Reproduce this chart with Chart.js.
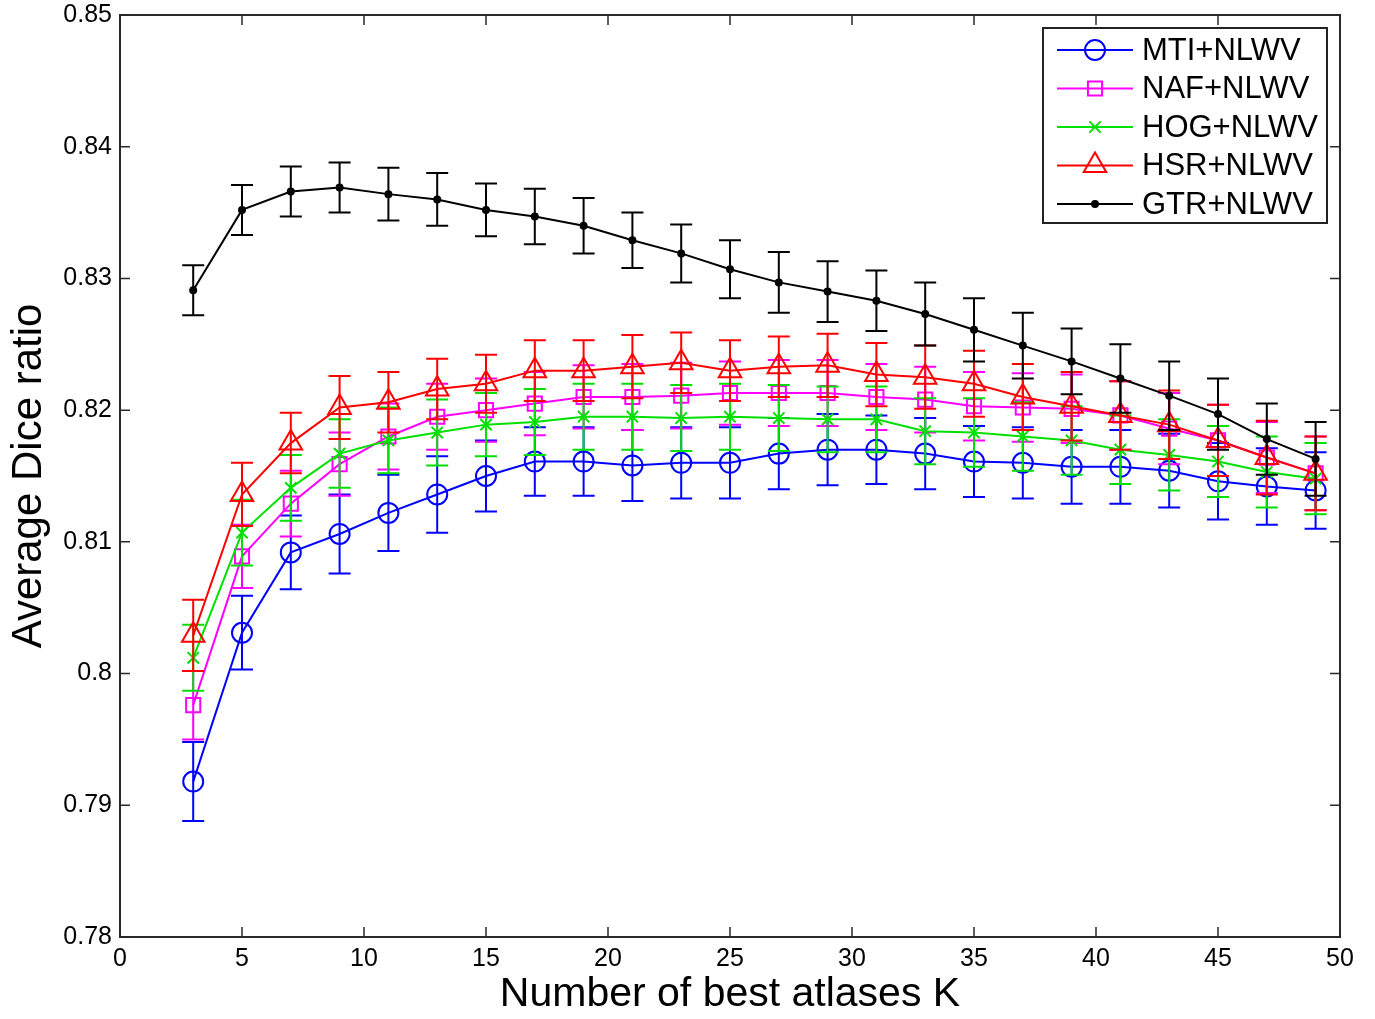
<!DOCTYPE html>
<html>
<head>
<meta charset="utf-8">
<title>Average Dice ratio</title>
<script src="https://cdn.jsdelivr.net/npm/chart.js@4.4.1/dist/chart.umd.min.js"></script>
<style>
  html, body { margin: 0; padding: 0; background: #fff; }
  #wrap { width: 1375px; height: 1019px; }
</style>
</head>
<body>
<div id="wrap"><canvas id="myChart" width="1375" height="1019"></canvas></div>
<script>
// Nombre d'atlas K
const K = [3, 5, 7, 9, 11, 13, 15, 17, 19, 21, 23, 25, 27, 29, 31, 33, 35, 37, 39, 41, 43, 45, 47, 49];

// Dice moyen par méthode
const mti = [0.7918, 0.8031, 0.8092, 0.8106, 0.8122, 0.8136, 0.8150, 0.8161, 0.8161, 0.8158, 0.8160, 0.8160,
             0.8167, 0.8170, 0.8170, 0.8167, 0.8161, 0.8160, 0.8157, 0.8157, 0.8154, 0.8146, 0.8142, 0.8139];
const naf = [0.7976, 0.8089, 0.8129, 0.8159, 0.8180, 0.8195, 0.8200, 0.8205, 0.8210, 0.8210, 0.8211, 0.8213,
             0.8213, 0.8213, 0.8210, 0.8208, 0.8203, 0.8202, 0.8201, 0.8196, 0.8186, 0.8177, 0.8164, 0.8152];
const hog = [0.8012, 0.8107, 0.8141, 0.8167, 0.8177, 0.8183, 0.8189, 0.8191, 0.8195, 0.8195, 0.8194, 0.8195,
             0.8194, 0.8193, 0.8193, 0.8184, 0.8183, 0.8180, 0.8177, 0.8170, 0.8166, 0.8161, 0.8153, 0.8148];
const hsr = [0.8029, 0.8136, 0.8175, 0.8202, 0.8206, 0.8216, 0.8220, 0.8230, 0.8230, 0.8233, 0.8236, 0.8230,
             0.8233, 0.8234, 0.8227, 0.8225, 0.8220, 0.8210, 0.8203, 0.8196, 0.8189, 0.8177, 0.8164, 0.8152];
const gtr = [0.8291, 0.8352, 0.8366, 0.8369, 0.8364, 0.8360, 0.8352, 0.8347, 0.8340, 0.8329, 0.8319, 0.8307,
             0.8297, 0.8290, 0.8283, 0.8273, 0.8261, 0.8249, 0.8237, 0.8224, 0.8211, 0.8197, 0.8178, 0.8163];

// Demi-largeur des barres d'erreur
const mtiErr = [0.0030, 0.0028, 0.0028, 0.0030, 0.0029, 0.0029, 0.0027, 0.0026, 0.0026, 0.0027, 0.0027, 0.0027,
                0.0027, 0.0027, 0.0026, 0.0027, 0.0027, 0.0027, 0.0028, 0.0028, 0.0028, 0.0029, 0.0029, 0.0029];
const nafErr = [0.0026, 0.0024, 0.0025, 0.0024, 0.0025, 0.0025, 0.0024, 0.0024, 0.0024, 0.0025, 0.0025, 0.0024,
                0.0025, 0.0025, 0.0025, 0.0025, 0.0026, 0.0026, 0.0026, 0.0026, 0.0027, 0.0027, 0.0027, 0.0028];
const hogErr = [0.0025, 0.0025, 0.0025, 0.0026, 0.0025, 0.0025, 0.0024, 0.0025, 0.0025, 0.0025, 0.0025, 0.0025,
                0.0025, 0.0025, 0.0025, 0.0025, 0.0026, 0.0026, 0.0026, 0.0026, 0.0027, 0.0027, 0.0027, 0.0027];
const hsrErr = [0.0027, 0.0024, 0.0023, 0.0024, 0.0023, 0.0023, 0.0022, 0.0023, 0.0023, 0.0024, 0.0023, 0.0023,
                0.0023, 0.0024, 0.0024, 0.0024, 0.0025, 0.0025, 0.0026, 0.0026, 0.0026, 0.0027, 0.0028, 0.0028];
const gtrErr = [0.0019, 0.0019, 0.0019, 0.0019, 0.0020, 0.0020, 0.0020, 0.0021, 0.0021, 0.0021, 0.0022, 0.0022,
                0.0023, 0.0023, 0.0023, 0.0024, 0.0024, 0.0025, 0.0025, 0.0026, 0.0026, 0.0027, 0.0027, 0.0028];

const seriesNames = ['MTI+NLWV', 'NAF+NLWV', 'HOG+NLWV', 'HSR+NLWV', 'GTR+NLWV'];

// Graduations des axes
const xTicks = [0, 5, 10, 15, 20, 25, 30, 35, 40, 45, 50];
const yTicks = [0.78, 0.79, 0.80, 0.81, 0.82, 0.83, 0.84, 0.85];

const FONT = '"Liberation Sans", Arial, Helvetica, sans-serif';

const points = (vals) => K.map((k, i) => ({ x: k, y: vals[i] }));

function serie(label, vals, errs, color, style, radius, order, fill) {
  return {
    label: label,
    data: points(vals),
    errors: errs,
    borderColor: color,
    backgroundColor: color,
    borderWidth: 2,
    pointStyle: style,
    pointRadius: radius,
    pointHoverRadius: radius,
    pointBorderWidth: 2,
    pointBorderColor: color,
    pointBackgroundColor: fill || 'rgba(0,0,0,0)',
    tension: 0,
    order: order
  };
}

// Barres d'erreur dessinées avec les échelles du graphique
const errorBars = {
  id: 'errorBars',
  afterDatasetDraw(chart, args) {
    const ds = chart.data.datasets[args.index];
    const xs = chart.scales.x, ys = chart.scales.y;
    const ctx = chart.ctx;
    ctx.save();
    ctx.strokeStyle = ds.borderColor;
    ctx.lineWidth = 2;
    ds.data.forEach((p, i) => {
      const px = xs.getPixelForValue(p.x);
      const top = ys.getPixelForValue(p.y + ds.errors[i]);
      const bot = ys.getPixelForValue(p.y - ds.errors[i]);
      ctx.beginPath();
      ctx.moveTo(px, top); ctx.lineTo(px, bot);
      ctx.moveTo(px - 11, top); ctx.lineTo(px + 11, top);
      ctx.moveTo(px - 11, bot); ctx.lineTo(px + 11, bot);
      ctx.stroke();
    });
    ctx.restore();
  }
};

// Cadre et graduations vers l'intérieur (style MATLAB)
const frame = {
  id: 'frame',
  afterDatasetsDraw(chart) {
    const { ctx, chartArea: a, scales } = chart;
    const len = 10;
    ctx.save();
    ctx.strokeStyle = '#2a2a2a';
    ctx.lineWidth = 2;
    ctx.strokeRect(a.left, a.top, a.right - a.left, a.bottom - a.top);
    ctx.lineWidth = 1.5;
    ctx.beginPath();
    xTicks.forEach(v => {
      const px = scales.x.getPixelForValue(v);
      ctx.moveTo(px, a.bottom); ctx.lineTo(px, a.bottom - len);
      ctx.moveTo(px, a.top); ctx.lineTo(px, a.top + len);
    });
    yTicks.forEach(v => {
      const py = scales.y.getPixelForValue(v);
      ctx.moveTo(a.left, py); ctx.lineTo(a.left + len, py);
      ctx.moveTo(a.right, py); ctx.lineTo(a.right - len, py);
    });
    ctx.stroke();
    ctx.restore();
  }
};

// Légende encadrée en haut à droite
const legendBox = {
  id: 'legendBox',
  afterDraw(chart) {
    const { ctx, chartArea: a } = chart;
    const w = 284, h = 195;
    const bx = a.right - 13 - w, by = a.top + 13;
    ctx.save();
    ctx.fillStyle = '#fff';
    ctx.fillRect(bx, by, w, h);
    ctx.strokeStyle = '#222';
    ctx.lineWidth = 2;
    ctx.strokeRect(bx, by, w, h);
    chart.data.datasets.forEach((ds, i) => {
      const y = by + 22 + i * 38.5;
      const x0 = bx + 14, x1 = bx + 90;
      ctx.strokeStyle = ds.borderColor;
      ctx.lineWidth = 2;
      ctx.beginPath(); ctx.moveTo(x0, y); ctx.lineTo(x1, y); ctx.stroke();
      ctx.fillStyle = ds.pointBackgroundColor;
      Chart.helpers.drawPoint(ctx, { pointStyle: ds.pointStyle, radius: ds.pointRadius, rotation: 0, borderWidth: 2 }, (x0 + x1) / 2, y);
      ctx.fillStyle = '#000';
      ctx.font = '31px ' + FONT;
      ctx.textBaseline = 'middle';
      ctx.textAlign = 'left';
      ctx.fillText(seriesNames[i], bx + 99, y + 1);
    });
    ctx.restore();
  }
};

const data = {
  datasets: [
    serie(seriesNames[0], mti, mtiErr, '#0000ff', 'circle', 10, 4),
    serie(seriesNames[1], naf, nafErr, '#ff00ff', 'rect', 10, 3),
    serie(seriesNames[2], hog, hogErr, '#00e000', 'crossRot', 8, 2),
    serie(seriesNames[3], hsr, hsrErr, '#ff0000', 'triangle', 13, 1),
    serie(seriesNames[4], gtr, gtrErr, '#000000', 'circle', 3, 0, '#000000')
  ]
};

const config = {
  type: 'line',
  data,
  options: {
    responsive: false,
    animation: false,
    events: [],
    layout: { padding: { top: 15, right: 35, left: 0, bottom: 0 } },
    scales: {
      x: {
        type: 'linear',
        min: 0,
        max: 50,
        afterFit: (s) => { s.height = 82; s.paddingLeft = 0; s.paddingRight = 0; },
        afterBuildTicks: (s) => { s.ticks = xTicks.map(v => ({ value: v })); },
        grid: { display: false, drawTicks: false },
        border: { display: false },
        ticks: {
          padding: 7,
          color: '#000',
          font: { family: FONT, size: 25 },
          maxRotation: 0,
          callback: (v) => String(v)
        },
        title: {
          display: true,
          text: 'Number of best atlases K',
          color: '#000',
          font: { family: FONT, size: 41 },
          padding: { top: 0, bottom: 0 }
        }
      },
      y: {
        type: 'linear',
        min: 0.78,
        max: 0.85,
        afterFit: (s) => { s.width = 120; s.paddingTop = 0; s.paddingBottom = 0; },
        afterBuildTicks: (s) => { s.ticks = yTicks.map(v => ({ value: v })); },
        grid: { display: false, drawTicks: false },
        border: { display: false },
        ticks: {
          padding: 8,
          color: '#000',
          font: { family: FONT, size: 25 },
          callback: (v) => String(Number(v.toFixed(2)))
        },
        title: {
          display: true,
          text: 'Average Dice ratio',
          color: '#000',
          font: { family: FONT, size: 42 },
          padding: { top: 4, bottom: 4 }
        }
      }
    },
    plugins: {
      legend: { display: false },
      tooltip: { enabled: false }
    }
  },
  plugins: [errorBars, frame, legendBox]
};

const myChart = new Chart(document.getElementById('myChart'), config);
</script>
</body>
</html>
